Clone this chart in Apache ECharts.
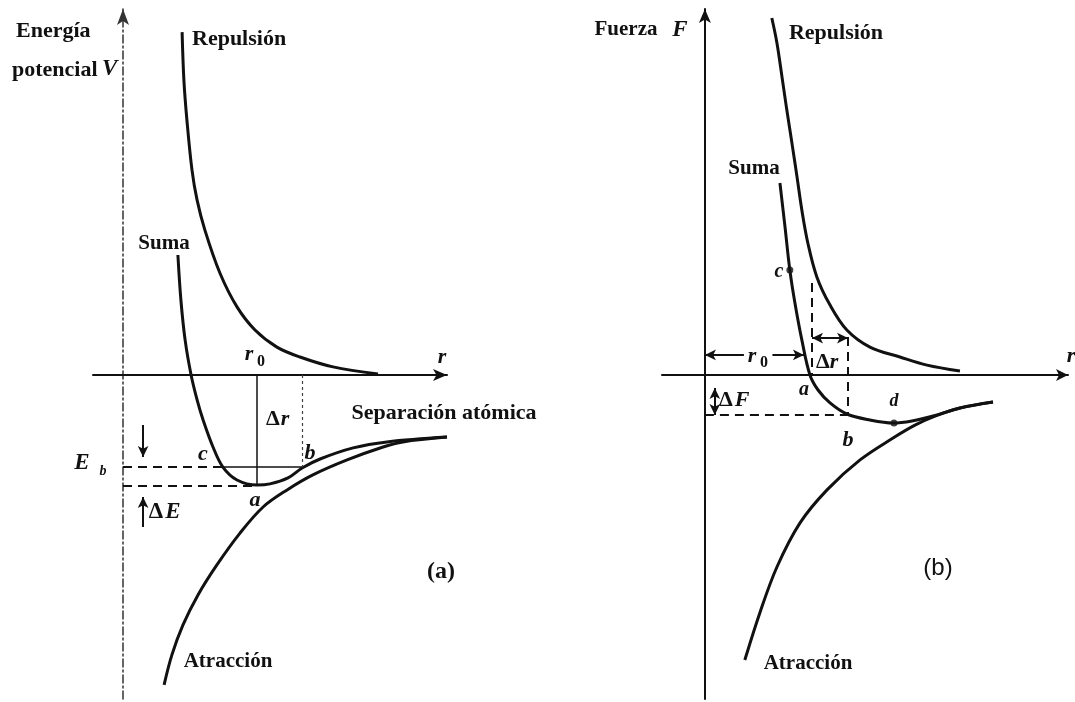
<!DOCTYPE html>
<html>
<head>
<meta charset="utf-8">
<script src="https://cdn.jsdelivr.net/npm/echarts/dist/echarts.min.js"></script>
<style>
  html, body { margin: 0; padding: 0; background: #fff; }
  #chart { width: 1075px; height: 702px; }
</style>
</head>
<body>
<div id="chart"></div>
<script>
// ---------- Panel (a): potential energy V versus separation r ----------
const repulsionV = [[1.97,11.43],[2.03,9.83],[2.13,8.5],[2.3,6.83],[2.47,5.83],[2.73,4.83],[3.23,3.4],[3.8,2.27],[4.4,1.5],[5.13,0.93],[5.9,0.6],[7.0,0.27],[8.5,0.03]];
const sumV = [[1.83,4.0],[1.93,2.5],[2.07,1.17],[2.27,0],[2.47,-0.83],[2.67,-1.5],[3.0,-2.4],[3.33,-3.07],[3.8,-3.5],[4.47,-3.67],[4.9,-3.63],[5.5,-3.43],[5.97,-3.1],[6.57,-2.8],[7.67,-2.43],[8.8,-2.23],[10.8,-2.07]];
const attractionV = [[1.37,-10.33],[1.63,-9.33],[2.0,-8.33],[2.5,-7.33],[3.13,-6.33],[3.9,-5.27],[4.67,-4.4],[5.47,-3.83],[6.33,-3.33],[7.47,-2.83],[8.67,-2.4],[9.33,-2.23],[10.8,-2.07]];

// construction segments [x1, y1, x2, y2]
const dashedA = [[0,-3.07,3.33,-3.07],[0,-3.7,4.47,-3.7]];
const solidA = [[3.33,-3.07,5.97,-3.07],[4.47,0,4.47,-3.67]];
const dottedA = [[5.97,0,5.97,-3.07]];
const arrowsA = [[0.67,-1.67,0.67,-2.73],[0.67,-5.07,0.67,-4.07]];

// ---------- Panel (b): force F versus separation r ----------
const repulsionF = [[2.23,11.9],[2.4,11.07],[2.57,9.93],[2.73,8.83],[2.9,7.73],[3.07,6.6],[3.23,5.5],[3.43,4.4],[3.73,3.27],[4.17,2.33],[4.73,1.5],[5.5,0.93],[6.5,0.6],[7.4,0.33],[8.5,0.13]];
const sumF = [[2.5,6.4],[2.67,4.93],[2.83,3.5],[3.0,2.4],[3.23,1.17],[3.5,0],[3.77,-0.5],[4.17,-0.93],[4.73,-1.3],[5.5,-1.5],[6.27,-1.6],[6.9,-1.53],[7.67,-1.35],[8.5,-1.1],[9.6,-0.9]];
const attractionF = [[1.33,-9.5],[1.83,-7.93],[2.4,-6.4],[3.17,-4.93],[4.07,-3.83],[5.17,-2.83],[6.27,-2.1],[7.0,-1.67],[7.67,-1.37],[8.5,-1.1],[9.6,-0.9]];
const markedF = [[2.83,3.5],[6.3,-1.6]];

const dashedB = [[0,-1.33,4.77,-1.33],[4.77,1.27,4.77,-1.33],[3.57,3.07,3.57,0]];
const arrowsB = [[1.3,0.67,0,0.67],[2.25,0.67,3.3,0.67],[4.17,1.23,3.57,1.23],[4.17,1.23,4.77,1.23],[0.33,-0.9,0.33,-0.43],[0.33,-0.9,0.33,-1.33]];

const INK = '#111';

function segs(list, style, endSymbol) {
  return list.map(s => [
    { coord: [s[0], s[1]], symbol: 'none', lineStyle: style },
    { coord: [s[2], s[3]], symbol: endSymbol, symbolSize: [8, 11] }
  ]);
}

function curve(name, data, gi) {
  return {
    name, type: 'line', data, xAxisIndex: gi, yAxisIndex: gi,
    smooth: 0.35, symbol: 'none', silent: true,
    lineStyle: { color: INK, width: 3 }
  };
}

function guides(gi, lines) {
  return {
    type: 'line', data: [], xAxisIndex: gi, yAxisIndex: gi, silent: true,
    markLine: {
      silent: true, animation: false,
      label: { show: false },
      lineStyle: { color: INK, width: 1.5, type: 'solid' },
      data: lines
    }
  };
}

const dashStyle = { color: INK, width: 2, type: [9, 6] };
const thinStyle = { color: INK, width: 1.5, type: 'solid' };
const dotStyle = { color: '#444', width: 1.2, type: [3, 3] };
const arrowStyle = { color: INK, width: 2, type: 'solid' };

const hidden = {
  axisTick: { show: false }, axisLabel: { show: false }, splitLine: { show: false }
};

const serifBold = (px) => 'bold ' + px + 'px "Liberation Serif"';
const serifItalic = (px) => 'italic bold ' + px + 'px "Liberation Serif"';

function txt(text, x, y, font, align) {
  return {
    type: 'text', x, y, silent: true,
    style: { text, font, fill: INK, textAlign: align || 'center', textVerticalAlign: 'middle' }
  };
}

const texts = [
  // panel (a)
  txt('Energía', 16, 31, serifBold(22), 'left'),
  txt('potencial', 12, 70, serifBold(22), 'left'),
  txt('V', 102, 69, serifItalic(23), 'left'),
  txt('Repulsión', 192, 39, serifBold(22), 'left'),
  txt('Suma', 164, 244, serifBold(21)),
  txt('r', 249, 354, serifItalic(22)),
  txt('0', 261, 362, serifBold(16)),
  txt('r', 442, 357, serifItalic(22)),
  txt('Δ', 273, 419, serifBold(22)),
  txt('r', 285, 419, serifItalic(22)),
  txt('Separación atómica', 444, 413, serifBold(22)),
  txt('c', 203, 454, serifItalic(22)),
  txt('b', 310, 453, serifItalic(22)),
  txt('a', 255, 500, serifItalic(22)),
  txt('E', 82, 463, serifItalic(23)),
  txt('b', 103, 471, serifItalic(14)),
  txt('Δ', 156, 512, serifBold(23)),
  txt('E', 173, 512, serifItalic(23)),
  txt('(a)', 441, 572, serifBold(24)),
  txt('Atracción', 228, 662, serifBold(21)),
  // panel (b)
  txt('Fuerza', 626, 30, serifBold(21)),
  txt('F', 680, 30, serifItalic(23)),
  txt('Repulsión', 836, 33, serifBold(22)),
  txt('Suma', 754, 169, serifBold(21)),
  txt('c', 779, 272, serifItalic(20)),
  txt('r', 752, 356, serifItalic(22)),
  txt('0', 764, 363, serifBold(16)),
  txt('Δ', 823, 362, serifBold(22)),
  txt('r', 834, 362, serifItalic(22)),
  txt('a', 804, 390, serifItalic(20)),
  txt('Δ', 726, 400, serifBold(22)),
  txt('F', 742, 400, serifItalic(22)),
  txt('d', 894, 401, serifItalic(18)),
  txt('b', 848, 440, serifItalic(22)),
  txt('(b)', 938, 568, '24px "Liberation Sans"'),
  txt('Atracción', 808, 664, serifBold(21)),
  txt('r', 1071, 356, serifItalic(22))
];

const option = {
  backgroundColor: '#ffffff',
  animation: false,
  grid: [
    { left: 93, top: 9, width: 354, height: 690 },
    { left: 662, top: 9, width: 406, height: 690 }
  ],
  xAxis: [
    { type: 'value', gridIndex: 0, min: -1, max: 10.8, ...hidden,
      axisLine: { show: true, onZero: true, symbol: ['none', 'arrow'], symbolSize: [9, 14],
        lineStyle: { color: INK, width: 2 } } },
    { type: 'value', gridIndex: 1, min: -1.43, max: 12.1, ...hidden,
      axisLine: { show: true, onZero: true, symbol: ['none', 'arrow'], symbolSize: [9, 12],
        lineStyle: { color: INK, width: 2 } } }
  ],
  yAxis: [
    { type: 'value', gridIndex: 0, min: -10.8, max: 12.2, ...hidden,
      axisLine: { show: true, onZero: true, symbol: ['none', 'arrow'], symbolSize: [9, 16],
        lineStyle: { color: '#333', width: 1.5, type: [8, 3, 2, 3] } } },
    { type: 'value', gridIndex: 1, min: -10.8, max: 12.2, ...hidden,
      axisLine: { show: true, onZero: true, symbol: ['none', 'arrow'], symbolSize: [9, 14],
        lineStyle: { color: INK, width: 2 } } }
  ],
  series: [
    curve('Repulsión', repulsionV, 0),
    curve('Suma', sumV, 0),
    curve('Atracción', attractionV, 0),
    guides(0, [].concat(
      segs(dashedA, dashStyle, 'none'),
      segs(solidA, thinStyle, 'none'),
      segs(dottedA, dotStyle, 'none'),
      segs(arrowsA, arrowStyle, 'arrow')
    )),
    curve('Repulsión', repulsionF, 1),
    curve('Suma', sumF, 1),
    curve('Atracción', attractionF, 1),
    guides(1, [].concat(
      segs(dashedB, dashStyle, 'none'),
      segs(arrowsB, arrowStyle, 'arrow')
    )),
    { type: 'scatter', xAxisIndex: 1, yAxisIndex: 1, data: markedF, symbolSize: 7,
      itemStyle: { color: INK }, silent: true }
  ],
  graphic: texts
};

const chart = echarts.init(document.getElementById('chart'), null, { renderer: 'canvas' });
chart.setOption(option);
</script>
</body>
</html>
